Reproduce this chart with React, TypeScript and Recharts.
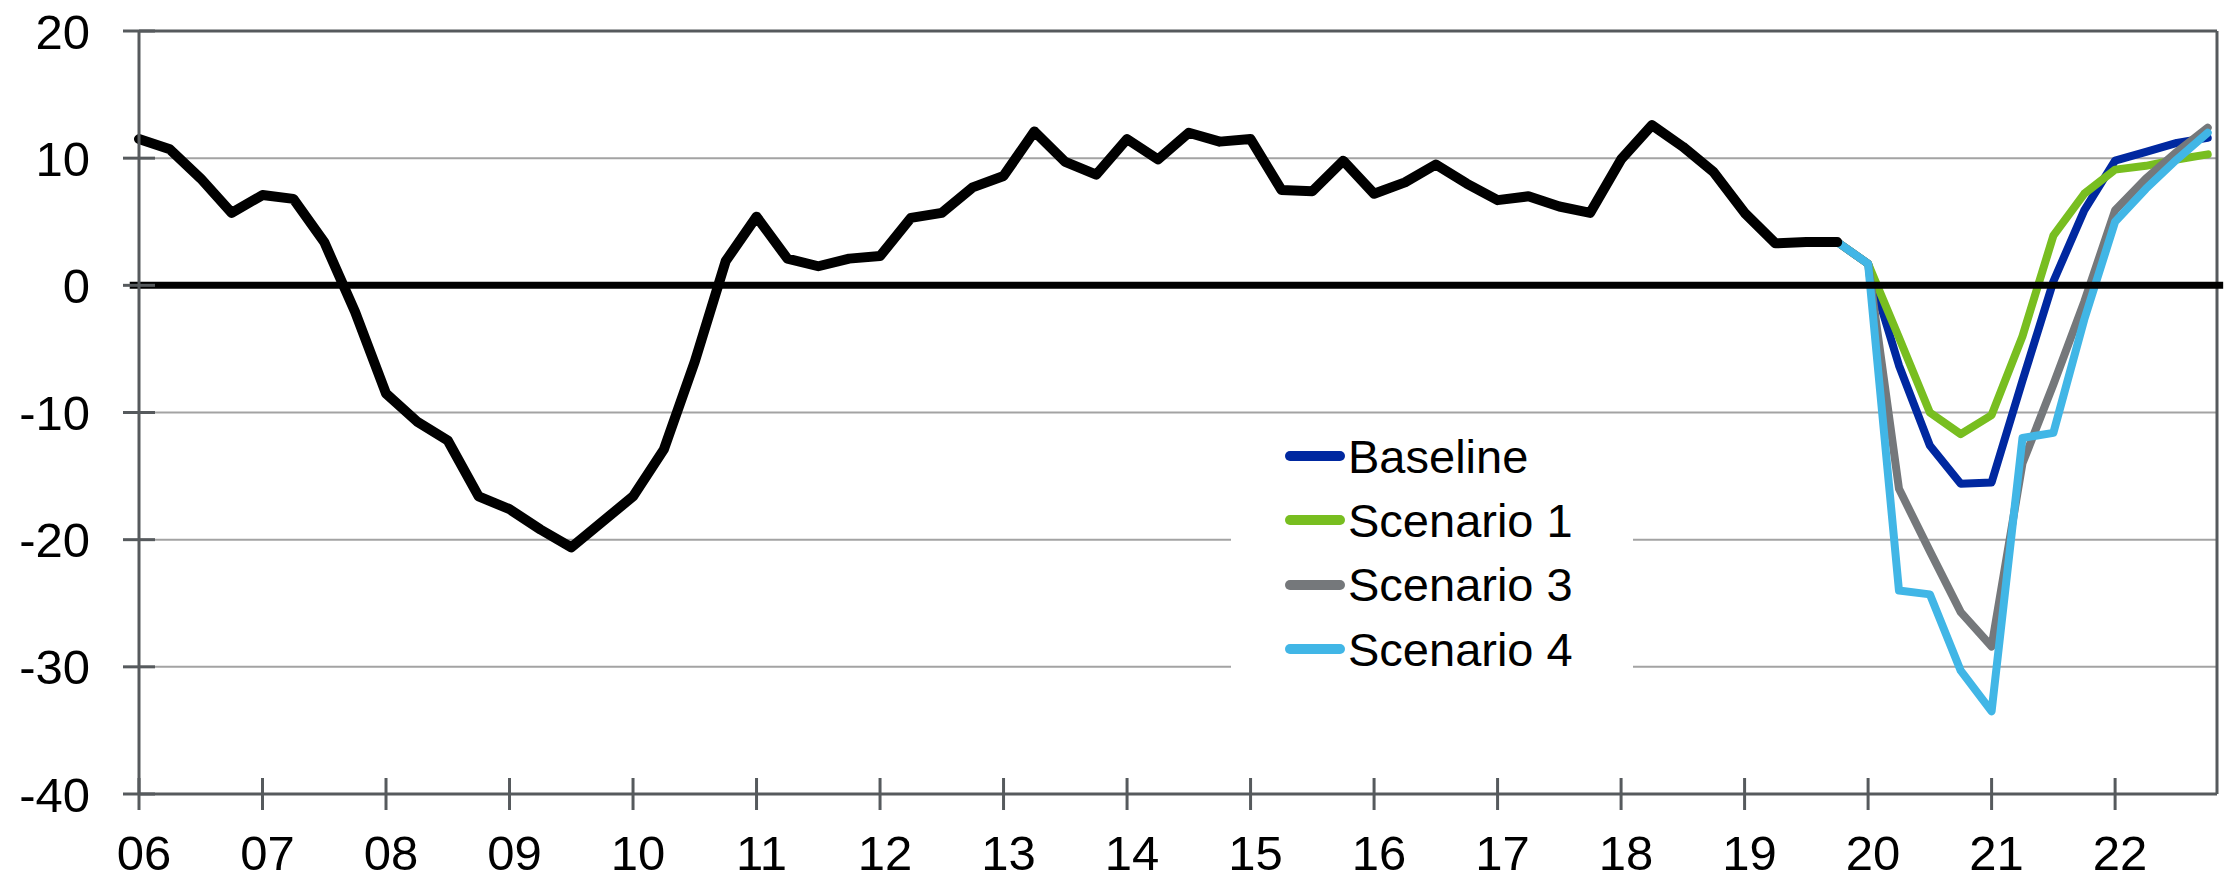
import React from 'react';
import { LineChart, Line, XAxis, YAxis, CartesianGrid, ReferenceLine, Legend } from 'recharts';

// quarterly, 2006Q1 .. 2019Q4
const history = [
  11.5, 10.7, 8.4, 5.7, 7.1, 6.8, 3.4, -2.1,
  -8.5, -10.7, -12.2, -16.6, -17.6, -19.2, -20.6, -18.6,
  -16.6, -12.9, -6.0, 1.9, 5.4, 2.1, 1.5, 2.1,
  2.3, 5.3, 5.7, 7.7, 8.6, 12.1, 9.7, 8.7,
  11.5, 9.9, 12.0, 11.3, 11.5, 7.5, 7.4, 9.8,
  7.2, 8.1, 9.5, 8.0, 6.7, 7.0, 6.2, 5.7,
  9.9, 12.6, 10.9, 8.9, 5.7, 3.3, 3.4, 3.4,
];

// scenarios, 2019Q4 (shared last actual) .. 2022Q4
const baseline = [3.4, 1.7, -6.3, -12.6, -15.6, -15.5, -7.5, 0.3, 5.9, 9.8, 10.5, 11.2, 11.6];
const scenario1 = [3.4, 1.7, -4.1, -10.0, -11.7, -10.2, -4.0, 3.9, 7.2, 9.1, 9.4, 9.9, 10.3];
const scenario3 = [3.4, 1.7, -16.0, -20.9, -25.7, -28.4, -14.0, -7.8, -1.3, 5.9, 8.4, 10.5, 12.4];
const scenario4 = [3.4, 1.7, -24.0, -24.3, -30.3, -33.5, -12.0, -11.6, -2.7, 5.0, 7.6, 9.9, 12.0];

const yearLabels = ['06', '07', '08', '09', '10', '11', '12', '13', '14', '15', '16', '17', '18', '19', '20', '21', '22'];
const yTicks = [-40, -30, -20, -10, 0, 10, 20];

const AXIS = '#565a5d';
const GRID = '#a3a3a3';
const FONT = '"Liberation Sans", Arial, sans-serif';
const X_MAX = 67.3;

const start = history.length - 1;
const chartData = Array.from({ length: start + baseline.length }, (_, i) => {
  const k = i - start;
  return {
    q: i,
    history: i < history.length ? history[i] : null,
    baseline: k >= 0 ? baseline[k] : null,
    scenario1: k >= 0 ? scenario1[k] : null,
    scenario3: k >= 0 ? scenario3[k] : null,
    scenario4: k >= 0 ? scenario4[k] : null,
  };
});

const xTicks = yearLabels.map((_, n) => n * 4);

const YTick = (props: any) => {
  const { x, y, payload } = props;
  const axisX = x + 33 + 16;
  return (
    <g>
      <line x1={axisX - 16} x2={axisX + 16} y1={y} y2={y} stroke={AXIS} strokeWidth={3} />
      <text x={x} y={y} dy="0.36em" textAnchor="end" fontSize={49} fontFamily={FONT} fill="#000">
        {payload.value}
      </text>
    </g>
  );
};

const XTick = (props: any) => {
  const { x, y, payload } = props;
  const axisY = y - 16;
  return (
    <g>
      <line x1={x} x2={x} y1={axisY - 16} y2={axisY + 16} stroke={AXIS} strokeWidth={3} />
      <text x={x + 5} y={axisY + 76} textAnchor="middle" fontSize={49} fontFamily={FONT} fill="#000">
        {yearLabels[Math.round(payload.value / 4)]}
      </text>
    </g>
  );
};

const renderLegend = (props: any) => {
  const items = (props.payload || []).filter((entry: any) => entry.dataKey !== 'history' && entry.type !== 'none');
  return (
    <div style={{ fontFamily: FONT, fontSize: 47, color: '#000' }}>
      {items.map((entry: any) => (
        <div key={entry.value} style={{ display: 'flex', alignItems: 'center', height: 64.3 }}>
          <svg width={60} height={12} style={{ marginLeft: 54 }}>
            <line x1={5} x2={55} y1={6} y2={6} stroke={entry.color} strokeWidth={10} strokeLinecap="round" />
          </svg>
          <span style={{ marginLeft: 3, lineHeight: 1 }}>{entry.value}</span>
        </div>
      ))}
    </div>
  );
};

export default function App() {
  return (
    <div style={{ position: 'absolute', left: 0, top: 0, width: 2224, height: 881, background: '#fff' }}>
      <LineChart width={2224} height={881} data={chartData} margin={{ top: 31, right: 7, bottom: 0, left: 0 }}>
        <CartesianGrid vertical={false} stroke={GRID} strokeWidth={2} />
        <XAxis
          dataKey="q"
          type="number"
          domain={[0, X_MAX]}
          ticks={xTicks}
          interval={0}
          height={87}
          tickSize={16}
          tickMargin={0}
          tickLine={false}
          tick={<XTick />}
          axisLine={{ stroke: AXIS, strokeWidth: 3 }}
        />
        <YAxis
          domain={[-40, 20]}
          ticks={yTicks}
          interval={0}
          width={139}
          tickSize={16}
          tickMargin={33}
          tickLine={false}
          tick={<YTick />}
          axisLine={{ stroke: AXIS, strokeWidth: 3 }}
        />
        <ReferenceLine y={20} stroke={AXIS} strokeWidth={3} />
        <ReferenceLine x={X_MAX} stroke={AXIS} strokeWidth={3} />
        <Line name="Baseline" dataKey="baseline" stroke="#0028a0" strokeWidth={8} dot={false}
          strokeLinejoin="round" strokeLinecap="round" isAnimationActive={false} />
        <Line name="Scenario 1" dataKey="scenario1" stroke="#78be20" strokeWidth={8} dot={false}
          strokeLinejoin="round" strokeLinecap="round" isAnimationActive={false} />
        <Line name="Scenario 3" dataKey="scenario3" stroke="#75787b" strokeWidth={8} dot={false}
          strokeLinejoin="round" strokeLinecap="round" isAnimationActive={false} />
        <Line name="Scenario 4" dataKey="scenario4" stroke="#41b6e6" strokeWidth={8} dot={false}
          strokeLinejoin="round" strokeLinecap="round" isAnimationActive={false} />
        <Line dataKey="history" stroke="#000" strokeWidth={10} dot={false} legendType="none"
          strokeLinejoin="round" strokeLinecap="round" isAnimationActive={false} />
        <ReferenceLine
          segment={[{ x: -0.3, y: 0 }, { x: 67.5, y: 0 }]}
          ifOverflow="visible"
          stroke="#000"
          strokeWidth={7}
        />
        <Legend
          layout="vertical"
          align="center"
          verticalAlign="middle"
          content={renderLegend}
          wrapperStyle={{ left: 1231, top: 424, width: 402, height: 280, background: '#fff' }}
        />
      </LineChart>
    </div>
  );
}
